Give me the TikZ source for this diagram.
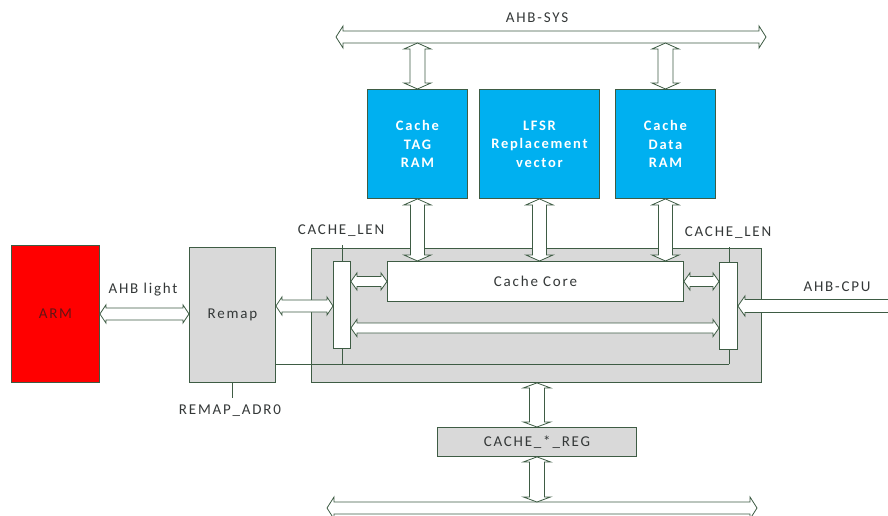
\documentclass[tikz,border=0pt]{standalone}
\usepackage{fontspec}
\setmainfont{Carlito}[LetterSpace=12]
\usetikzlibrary{calc}
\definecolor{edge}{RGB}{62,92,68}
\definecolor{txt}{RGB}{52,56,56}
\definecolor{cblue}{RGB}{0,176,240}
\definecolor{cgray}{RGB}{217,217,217}
\definecolor{cred}{RGB}{255,0,0}
\definecolor{armtxt}{RGB}{100,20,20}
% double-headed horizontal block arrow: #1 left pt, #2 right pt, #3 shaft half, #4 head half, #5 head length
\newcommand\dharrow[5]{\path[barrow] let \p1=#1, \p2=#2 in
  (\x1,\y1) -- (\x1+#5,\y1+#4) -- (\x1+#5,\y1+#3) -- (\x2-#5,\y1+#3) -- (\x2-#5,\y1+#4) -- (\x2,\y1)
  -- (\x2-#5,\y1-#4) -- (\x2-#5,\y1-#3) -- (\x1+#5,\y1-#3) -- (\x1+#5,\y1-#4) -- cycle;}
% double-headed vertical block arrow: #1 top pt, #2 bottom pt
\newcommand\dvarrow[5]{\path[barrow] let \p1=#1, \p2=#2 in
  (\x1,\y1) -- (\x1+#4,\y1-#5) -- (\x1+#3,\y1-#5) -- (\x1+#3,\y2+#5) -- (\x1+#4,\y2+#5) -- (\x1,\y2)
  -- (\x1-#4,\y2+#5) -- (\x1-#3,\y2+#5) -- (\x1-#3,\y1-#5) -- (\x1-#4,\y1-#5) -- cycle;}
% single left-pointing block arrow: #1 tip, #2 tail
\newcommand\lharrow[5]{\path[barrow] let \p1=#1, \p2=#2 in
  (\x1,\y1) -- (\x1+#5,\y1+#4) -- (\x1+#5,\y1+#3) -- (\x2,\y1+#3) -- (\x2,\y1-#3) -- (\x1+#5,\y1-#3) -- (\x1+#5,\y1-#4) -- cycle;}
\tikzset{
  blk/.style={draw=edge, line width=0.9pt, rectangle, inner sep=0pt, anchor=north west, text=txt},
  bluebox/.style={blk, fill=cblue, text=white, font=\fontsize{14.5}{18.5}\selectfont\bfseries, align=center},
  graybox/.style={blk, fill=cgray},
  whitebox/.style={blk, fill=white},
  barrow/.style={draw=edge, fill=white, line width=0.8pt, line join=miter},
  wire/.style={draw=edge, line width=0.9pt},
  lbl/.style={text=txt, inner sep=0pt},
  every node/.style={font=\fontsize{15}{18.5}\selectfont}
}
\begin{document}
\begin{tikzpicture}[x=1pt,y=-1pt]
\useasboundingbox (0,0) rectangle (888,516);
% boxes
\node[blk, fill=cred, text=armtxt, minimum width=88pt, minimum height=137pt] (arm) at (11,245) {ARM};
\node[graybox, minimum width=86pt, minimum height=135pt] (remap) at (189,247) {Remap};
\node[graybox, minimum width=450pt, minimum height=134pt] (outer) at (311,248) {};
\node[whitebox, minimum width=296pt, minimum height=40pt] (core) at (387,261) {Cache Core};
\node[whitebox, minimum width=17pt, minimum height=87pt] (lbar) at (333,261) {};
\node[whitebox, minimum width=18pt, minimum height=87pt] (rbar) at (719,262) {};
\node[bluebox, minimum width=100pt, minimum height=109pt] (tag) at (367,89) {Cache\\TAG\\RAM};
\node[bluebox, minimum width=120pt, minimum height=109pt] (lfsr) at (479,89) {LFSR\\Replacement\\vector};
\node[bluebox, minimum width=100pt, minimum height=109pt] (data) at (615,89) {Cache\\Data\\RAM};
\node[graybox, minimum width=199pt, minimum height=29pt] (reg) at (437,427) {CACHE\_*\_REG};
% labels
\node[lbl] (sys) at (537,18) {AHB-SYS};
\node[lbl] (light) at (143,290) {AHB light};
\node[lbl] (cpu) at (837,287) {AHB-CPU};
\node[lbl] (lenL) at (341,231) {CACHE\_LEN};
\node[lbl] (lenR) at (728,233) {CACHE\_LEN};
\node[lbl] (adr) at (230,411) {REMAP\_ADR0};
% coordinates
\coordinate (sysL) at (336,37);
\coordinate (sysR) at (766,37);
\coordinate (busL) at (327,508);
\coordinate (busR) at (757,508);
\coordinate (ylink) at (0,306);
\coordinate (ylong) at (0,328);
\coordinate (ysel) at (0,364);
\coordinate (cpuR) at (892,306);
\coordinate (lenLb) at (342,245);
\coordinate (lenRb) at (729,247);
\coordinate (adrB) at (232,398);
% wires
\draw[wire] (lenLb) -- (lenLb |- lbar.north);
\draw[wire] (lenRb) -- (lenRb |- rbar.north);
\draw[wire] (lenLb |- lbar.south) -- (lenLb |- ysel);
\draw[wire] (lenRb |- rbar.south) -- (lenRb |- ysel);
\draw[wire] (remap.east |- ysel) -- (lenRb |- ysel);
\draw[wire] (remap.south -| adrB) -- (adrB);
% buses
\dharrow{(sysL)}{(sysR)}{6pt}{11pt}{7pt}
\dharrow{(busL)}{(busR)}{6pt}{11pt}{7pt}
% vertical arrows
\dvarrow{($(tag.north |- sysL)+(0,6)$)}{(tag.north)}{7.5pt}{13.5pt}{6pt}
\dvarrow{($(data.north |- sysL)+(0,6)$)}{(data.north)}{7.5pt}{13.5pt}{6pt}
\dvarrow{(tag.south)}{(tag.south |- core.north)}{7pt}{13.5pt}{6pt}
\dvarrow{(lfsr.south)}{(lfsr.south |- core.north)}{7pt}{13.5pt}{6pt}
\dvarrow{(data.south)}{(data.south |- core.north)}{7pt}{13.5pt}{6pt}
\dvarrow{(outer.south -| reg.north)}{(reg.north)}{7.5pt}{13.5pt}{5pt}
\dvarrow{(reg.south)}{($(reg.south |- busL)+(0,-6)$)}{7.5pt}{13.5pt}{5pt}
% horizontal arrows
\dharrow{(arm.east)}{(remap.west)}{6pt}{9pt}{6pt}
\dharrow{(remap.east |- ylink)}{(lbar.west |- ylink)}{6pt}{9pt}{6pt}
\dharrow{(core.west -| lbar.east)}{(core.west)}{5pt}{8.5pt}{6pt}
\dharrow{(core.east)}{(core.east -| rbar.west)}{5pt}{8.5pt}{6pt}
\dharrow{(lbar.east |- ylong)}{(rbar.west |- ylong)}{5pt}{8.5pt}{6pt}
\lharrow{(rbar.east |- ylink)}{(cpuR)}{6.5pt}{10pt}{7pt}
\end{tikzpicture}
\end{document}
